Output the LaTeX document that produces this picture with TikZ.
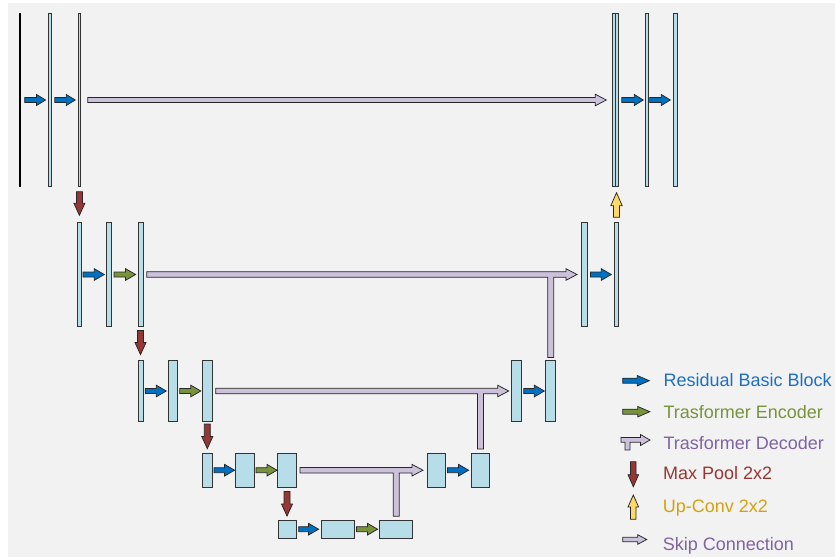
\documentclass[tikz,border=0pt]{standalone}
\usepackage{fontspec}
\setmainfont{Liberation Sans}
\usetikzlibrary{calc}
\definecolor{bg}{HTML}{F2F2F2}
\definecolor{barblue}{HTML}{B7DEE8}
\definecolor{resblue}{HTML}{0070C0}
\definecolor{encgreen}{HTML}{77933C}
\definecolor{decpurple}{HTML}{CCC1DA}
\definecolor{poolred}{HTML}{953735}
\definecolor{upyellow}{HTML}{FFD966}
\definecolor{txtblue}{HTML}{1F6FBF}
\definecolor{txtgreen}{HTML}{77933C}
\definecolor{txtpurple}{HTML}{8064A2}
\definecolor{txtred}{HTML}{953735}
\definecolor{txtyellow}{HTML}{D4A20F}
% horizontal block arrow: style, start, tip, shaft half, head half, head length
\newcommand\harr[6]{\draw[#1] let \p1=#2, \p2=#3 in
  (\x1,{\y1+(#4pt)}) -- ({\x2-(#6pt)},{\y1+(#4pt)}) -- ({\x2-(#6pt)},{\y1+(#5pt)}) -- (\x2,\y1)
  -- ({\x2-(#6pt)},{\y1-(#5pt)}) -- ({\x2-(#6pt)},{\y1-(#4pt)}) -- (\x1,{\y1-(#4pt)}) -- cycle;}
% vertical block arrow: style, start, tip, shaft half, head half, signed head length (+ down, - up)
\newcommand\varr[6]{\draw[#1] let \p1=#2, \p2=#3 in
  ({\x1-(#4pt)},\y1) -- ({\x1-(#4pt)},{\y2+(#6pt)}) -- ({\x1-(#5pt)},{\y2+(#6pt)}) -- (\x1,\y2)
  -- ({\x1+(#5pt)},{\y2+(#6pt)}) -- ({\x1+(#4pt)},{\y2+(#6pt)}) -- ({\x1+(#4pt)},\y1) -- cycle;}
% skip connection with stem from below: start, tip, stem bottom
\newcommand\skipstem[3]{\draw[skiparrow] let \p1=#1, \p2=#2, \p3=#3 in
  (\x1,{\y1+2.8pt}) -- ({\x2-11pt},{\y1+2.8pt}) -- ({\x2-11pt},{\y1+5.8pt}) -- (\x2,\y1)
  -- ({\x2-11pt},{\y1-5.8pt}) -- ({\x2-11pt},{\y1-2.8pt}) -- ({\x3+3pt},{\y1-2.8pt})
  -- ({\x3+3pt},\y3) -- ({\x3-3pt},\y3) -- ({\x3-3pt},{\y1-2.8pt}) -- (\x1,{\y1-2.8pt}) -- cycle;}
\newcommand\mkbar[5]{\node[bar, minimum width=#4pt, minimum height=#5pt] (#1) at (#2,#3) {};}
\tikzset{
  bar/.style={rectangle, draw=black!80, fill=barblue, line width=0.75pt, inner sep=0pt, outer sep=0pt},
  arrowbase/.style={draw=black!85, line width=0.75pt, line join=miter},
  resarrow/.style={arrowbase, fill=resblue},
  encarrow/.style={arrowbase, fill=encgreen},
  poolarrow/.style={arrowbase, fill=poolred},
  uparrow/.style={arrowbase, fill=upyellow},
  skiparrow/.style={arrowbase, fill=decpurple},
  legtext/.style={anchor=base west, inner sep=0pt, font=\fontsize{18}{21}\selectfont}
}
\begin{document}
\begin{tikzpicture}[x=1pt,y=-1pt]
\path[use as bounding box] (0,0) rectangle (835,557);
\fill[white] (0,0) rectangle (835,557);
\fill[bg] (8,3) rectangle (835,557);

% ---- level 1 ----
\node[rectangle, draw=black, fill=black!70, line width=0.5pt, inner sep=0pt, outer sep=0pt,
      minimum width=1.4pt, minimum height=173.4pt] (b10) at (20,100) {};
\mkbar{b11}{50}{100}{2.9}{173.4}
\mkbar{b12}{79.4}{100}{2.9}{173.4}
\mkbar{d11a}{613.75}{100}{3}{173.4}
\mkbar{d11b}{617.25}{100}{3}{173.4}
\mkbar{d12}{646.85}{100}{3.1}{173.4}
\mkbar{d13}{675.3}{100}{3.4}{173.4}
% ---- level 2 ----
\mkbar{b21}{79.3}{274.5}{3.4}{104.4}
\mkbar{b22}{109}{274.5}{5.4}{104.4}
\mkbar{b23}{140.5}{274.5}{5}{104.4}
\mkbar{d21}{584.3}{274.5}{5.4}{104.4}
\mkbar{d22}{616.5}{274.5}{4.4}{104.4}
% ---- level 3 ----
\mkbar{b31}{141}{391}{5.4}{60.8}
\mkbar{b32}{173}{391}{9.4}{60.8}
\mkbar{b33}{207.3}{391}{9.4}{60.8}
\mkbar{d31}{516.65}{391}{10}{60.8}
\mkbar{d32}{550.65}{391}{10}{60.8}
% ---- level 4 ----
\mkbar{b41}{207.3}{470.2}{9.4}{34.4}
\mkbar{b42}{244.65}{470.2}{18.7}{34.4}
\mkbar{b43}{287}{470.2}{18.8}{34.4}
\mkbar{d41}{436.35}{470.2}{18.7}{34.4}
\mkbar{d42}{480.5}{470.2}{18.4}{34.4}
% ---- level 5 ----
\mkbar{b51}{287.2}{529.2}{18.4}{17.7}
\mkbar{b52}{338.15}{529.2}{33.1}{17.7}
\mkbar{b53}{396.15}{529.2}{33.1}{17.7}

% ---- level 1 arrows ----
\harr{resarrow}{($(b10.east)+(4,0)$)}{($(b11.west)+(-3,0)$)}{2.5}{5.5}{9}
\harr{resarrow}{($(b11.east)+(3.3,0)$)}{($(b12.west)+(-2.7,0)$)}{2.5}{5.5}{9}
\harr{skiparrow}{($(b12.east)+(7,0)$)}{($(d11a.west)+(-6,0)$)}{2.6}{5.8}{11}
\harr{resarrow}{($(d11b.east)+(3,0)$)}{($(d12.west)+(-2,0)$)}{2.5}{5.5}{9}
\harr{resarrow}{($(d12.east)+(1.3,0)$)}{($(d13.west)+(-3.3,0)$)}{2.5}{5.5}{9}
\varr{poolarrow}{($(b12.south)+(0,5)$)}{($(b21.north)+(0,-7)$)}{3}{5.5}{12}
\varr{uparrow}{($(d22.north)+(0,-5)$)}{($(d11b.south)+(0,6)$)}{3}{5.7}{-13}
% ---- level 2 arrows ----
\harr{resarrow}{($(b21.east)+(2,0)$)}{($(b22.west)+(-2,0)$)}{2.5}{5.8}{10}
\harr{encarrow}{($(b22.east)+(2.3,0)$)}{($(b23.west)+(-2.4,0)$)}{2.5}{5.8}{10}
\skipstem{($(b23.east)+(3.7,0)$)}{($(d21.west)+(-4.6,0)$)}{($(d32.north)+(0,-3)$)}
\harr{resarrow}{($(d21.east)+(3.4,0)$)}{($(d22.west)+(-3,0)$)}{2.5}{5.8}{10}
\varr{poolarrow}{($(b23.south)+(0,3.7)$)}{($(b31.north)+(0,-6)$)}{3}{5.5}{12}
% ---- level 3 arrows ----
\harr{resarrow}{($(b31.east)+(1.5,0)$)}{($(b32.west)+(-2,0)$)}{2.5}{5.8}{10}
\harr{encarrow}{($(b32.east)+(2,0)$)}{($(b33.west)+(-1.8,0)$)}{2.5}{5.8}{10}
\skipstem{($(b33.east)+(3.7,0)$)}{($(d31.west)+(-3,0)$)}{($(d42.north)+(0,-4)$)}
\harr{resarrow}{($(d31.east)+(2,0)$)}{($(d32.west)+(-1.3,0)$)}{2.5}{5.8}{10}
\varr{poolarrow}{($(b33.south)+(0,2.6)$)}{($(b41.north)+(0,-4.4)$)}{3}{5.5}{12}
% ---- level 4 arrows ----
\harr{resarrow}{($(b41.east)+(2,0)$)}{($(b42.west)+(-0.7,0)$)}{2.5}{5.8}{10}
\harr{encarrow}{($(b42.east)+(2,0)$)}{($(b43.west)+(-0.6,0)$)}{2.5}{5.8}{10}
\skipstem{($(b43.east)+(3.6,0)$)}{($(d41.west)+(-4,0)$)}{($(b53.north)+(0,-4)$)}
\harr{resarrow}{($(d41.east)+(1.7,0)$)}{($(d42.west)+(-2.7,0)$)}{2.5}{5.8}{10}
\varr{poolarrow}{($(b43.south)+(0,4)$)}{($(b51.north)+(0,-4.3)$)}{3}{5.5}{12}
% ---- level 5 arrows ----
\harr{resarrow}{($(b51.east)+(2.3,0)$)}{($(b52.west)+(-3,0)$)}{2.5}{5.8}{10}
\harr{encarrow}{($(b52.east)+(1.7,0)$)}{($(b53.west)+(-2,0)$)}{2.5}{5.8}{10}

% ---- legend ----
\harr{resarrow}{(622.7,380.7)}{(649.3,380.7)}{2.5}{5.2}{12}
\harr{encarrow}{(622.7,411.7)}{(649.8,411.7)}{2.5}{5.2}{12}
\draw[skiparrow] (621,437.5) -- (640.5,437.5) -- (640.5,434.5) -- (650,440) -- (640.5,445.5)
  -- (640.5,442.2) -- (630,442.2) -- (630,450) -- (625,450) -- (625,442.2) -- (621,442.2) -- cycle;
\varr{poolarrow}{(633.3,461.7)}{(633.3,486.7)}{2.7}{5.3}{12}
\varr{uparrow}{(633.3,519.3)}{(633.3,495)}{2.7}{5.3}{-12}
\harr{skiparrow}{(622.7,539.5)}{(646.7,539.5)}{2.2}{4.8}{9}

\node[legtext, text=txtblue] (l1) at (663.5,386.7) {Residual Basic Block};
\node[legtext, text=txtgreen] (l2) at (663.3,418) {Trasformer Encoder};
\node[legtext, text=txtpurple] (l3) at (663.3,449.3) {Trasformer Decoder};
\node[legtext, text=txtred] (l4) at (663,479.3) {Max Pool 2x2};
\node[legtext, text=txtyellow] (l5) at (662.7,512.7) {Up-Conv 2x2};
\node[legtext, text=txtpurple] (l6) at (662.7,550.7) {Skip Connection};
\end{tikzpicture}
\end{document}
